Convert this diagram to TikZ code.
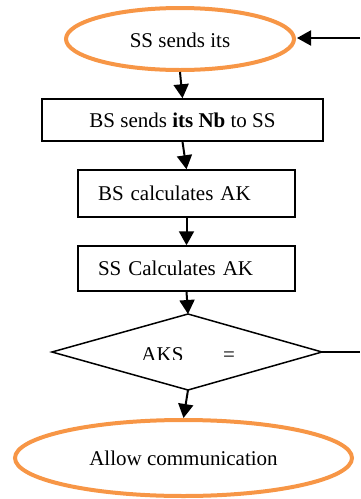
\documentclass[tikz,border=0pt]{standalone}
\usepackage{fontspec}
\setmainfont{Liberation Serif}
\usetikzlibrary{shapes.geometric,arrows.meta}
\definecolor{termorange}{RGB}{247,150,70}
\tikzset{
  terminal/.style={ellipse, draw=termorange, line width=4pt, inner sep=0pt},
  stepbox/.style={rectangle, draw, line width=1.5pt, inner sep=0pt},
  flow/.style={line width=2pt, -{Triangle[length=14pt,width=15pt]}},
  plain/.style={line width=1.5pt}
}
\begin{document}
\begin{tikzpicture}[x=1pt,y=-1pt,font=\fontsize{21}{25}\selectfont]
\useasboundingbox (0,0) rectangle (360,499);

% start / end terminals
\node[terminal, minimum width=228pt, minimum height=62pt] (start) at (180,39) {};
\node at (180,40) {SS sends its};
\node[terminal, minimum width=337pt, minimum height=76pt] (allow) at (183.5,458) {Allow communication};

% process steps
\node[stepbox, minimum width=281pt, minimum height=42pt] (nb) at (182.5,120) {BS sends \textbf{its Nb} to SS};
\node[stepbox, minimum width=217pt, minimum height=47pt, text width=177pt, align=left, inner xsep=20pt] (bsak) at (186.5,193.5) {BS calculates AK};
\node[stepbox, minimum width=217pt, minimum height=45pt, text width=177pt, align=left, inner xsep=20pt] (ssak) at (186.5,268.5) {SS Calculates AK};

% decision
\coordinate (dN) at (188,314);
\coordinate (dW) at (52,352);
\coordinate (dE) at (322,352);
\coordinate (dS) at (188,390);
\draw[plain, line join=miter] (dN) -- (dE) -- (dS) -- (dW) -- cycle;
\begin{scope}
  \clip (100,320) rectangle (300,359.5);
  \node[anchor=base, inner sep=0pt] (aks) at (162.5,361) {AKS};
\end{scope}
\node[anchor=base, inner sep=0pt] (eq) at (229,361) {=};

% feedback ends
\coordinate (fbin) at (360,38);
\coordinate (fbout) at (360,352);

% connectors
\draw[flow] (start.south) -- (nb.north);
\draw[flow] (nb.south) -- (bsak.north);
\draw[flow] (bsak.south) -- (ssak.north);
\draw[flow] (ssak.south) -- (dN);
\draw[flow] (dS) -- (allow.north);
\draw[flow] (fbin) -- (297,38);
\draw[plain] (dE) -- (fbout);
\end{tikzpicture}
\end{document}
